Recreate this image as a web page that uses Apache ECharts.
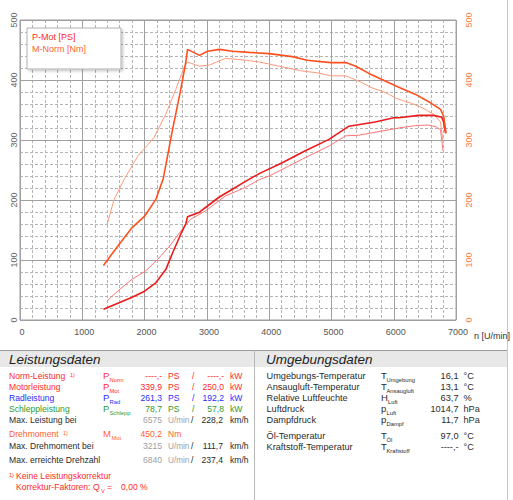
<!DOCTYPE html>
<html><head><meta charset="utf-8">
<script src="https://cdn.jsdelivr.net/npm/echarts@6/dist/echarts.min.js"></script>
<style>html,body{margin:0;padding:0;background:#fff}#c{width:513px;height:500px}</style>
</head><body><div id="c"></div>
<script>
// ---- chart data (rpm / values) ----
const xTicks = [0,1000,2000,3000,4000,5000,6000,7000];
const yTicks = [0,100,200,300,400,500];

const rpmPMot = [1340,1600,1800,2000,2180,2340,2450,2580,2660,2690,2870,3010,3200,3410,3620,3840,4210,4580,4960,5280,5700,6000,6080,6400,6640,6770,6800,6830];
const pMot    = [18,29,38,48,62,84,112,143,160,172,179,190,205,218,231,244,262,282,301,323,330,337,337,341,341,338,330,312];

const rpmPCmp = [1400,1600,1800,2020,2210,2400,2580,2740,2980,3300,3620,3840,4000,4530,4960,5230,5440,5810,6080,6350,6550,6680,6750,6790];
const pCmp    = [32,51,68,82,101,123,148,168,182,207,221,234,240,268,290,307,308,315,320,324,325,322,317,282];

const rpmMMot = [1340,1590,1800,2000,2180,2300,2450,2580,2660,2690,2880,3010,3200,3410,3680,4000,4370,4610,4990,5230,5390,5600,5810,6080,6350,6590,6750,6800,6840];
const mMot    = [91,126,154,173,201,236,318,384,429,451,441,448,451,448,446,444,439,433,429,429,423,411,401,388,376,362,351,340,311];

const rpmMCmp = [1400,1510,1670,1890,2150,2340,2500,2640,2690,2880,3040,3300,3620,3840,4160,4530,4770,4990,5230,5440,5650,5870,6050,6290,6450,6640,6750,6785];
const mCmp    = [160,201,234,273,304,343,384,423,430,423,425,436,433,430,423,415,412,407,407,398,387,379,369,361,354,343,330,300];

const legendNames = ['P-Mot [PS]','M-Norm [Nm]'];

// ---- table texts ----
const leftRowLabels = ['Norm-Leistung','Motorleistung','Radleistung','Schleppleistung','Max. Leistung bei','Drehmoment','Max. Drehmoment bei','Max. erreichte Drehzahl'];
const leftRowSyms   = ['P','P','P','P','','M','',''];
const leftRowSubs   = ['Norm','Mot','Rad','Schlepp','','Mot','',''];
const leftRowV1     = ['----,-','339,9','261,3','78,7','6575','450,2','3215','6840'];
const leftRowU1     = ['PS','PS','PS','PS','U/min','Nm','U/min','U/min'];
const leftRowV2     = ['----,-','250,0','192,2','57,8','228,2','','111,7','237,4'];
const leftRowU2     = ['kW','kW','kW','kW','km/h','','km/h','km/h'];

const rightRowLabels = ['Umgebungs-Temperatur','Ansaugluft-Temperatur','Relative Luftfeuchte','Luftdruck','Dampfdruck','Öl-Temperatur','Kraftstoff-Temperatur'];
const rightRowSyms   = ['T','T','H','p','p','T','T'];
const rightRowSubs   = ['Umgebung','Ansaugluft','Luft','Luft','Dampf','Öl','Kraftstoff'];
const rightRowVals   = ['16,1','13,1','63,7','1014,7','11,7','97,0','----,-'];
const rightRowUnits  = ['°C','°C','%','hPa','hPa','°C','°C'];

// ---- styling ----
const FONT = 'Liberation Sans, Arial, Helvetica, sans-serif';
const RED = '#ff2a2a', BLUE = '#2b2bff', GREEN = '#2f9a2f', ORANGE = '#ff5f2e', DARK = '#2a2a2a', GRAY = '#a0a0a0';
const leftRowColors = [RED, RED, BLUE, GREEN, DARK, ORANGE, DARK, DARK];
const leftRowY = [376, 387, 398, 409, 420, 434, 446, 460];
const rightRowY = [376, 387, 398, 409, 420, 436, 447];
const LF = 8.6, RF = 9.2;

const zip = (xs, ys) => xs.map((x, i) => [x, ys[i]]);

function txt(x, y, text, color, size, align, extra) {
  const st = {
    x: x, y: y, text: text, fill: color,
    font: (extra && extra.italic ? 'italic ' : '') + size + 'px ' + FONT,
    textAlign: align || 'left', textVerticalAlign: 'middle',
    align: align || 'left', verticalAlign: 'middle'
  };
  return { type: 'text', silent: true, z: 10, style: st };
}

const g = [];
// header band and panel lines
g.push({ type: 'rect', silent: true, z: 1, shape: { x: 0, y: 350, width: 507, height: 17 }, style: { fill: '#e8e8e8' } });
g.push({ type: 'line', silent: true, z: 2, shape: { x1: 0, y1: 350.5, x2: 507, y2: 350.5 }, style: { stroke: '#9a9a9a', lineWidth: 1 } });
g.push({ type: 'line', silent: true, z: 2, shape: { x1: 254.5, y1: 350, x2: 254.5, y2: 500 }, style: { stroke: '#b8b8b8', lineWidth: 1 } });
g.push({ type: 'line', silent: true, z: 2, shape: { x1: 507.5, y1: 0, x2: 507.5, y2: 500 }, style: { stroke: '#c8c8c8', lineWidth: 1 } });
g.push(txt(9, 359, 'Leistungsdaten', '#222', 13.5, 'left', { italic: true }));
g.push(txt(266, 359, 'Umgebungsdaten', '#222', 13.5, 'left', { italic: true }));

// left panel rows
leftRowLabels.forEach((lab, i) => {
  const y = leftRowY[i], c = leftRowColors[i];
  g.push(txt(9, y, lab, c, LF, 'left'));
  if (i === 0) g.push(txt(70, y - 1, '1)', c, 5.5, 'left'));
  if (i === 5) g.push(txt(63, y - 1, '1)', c, 5.5, 'left'));
  if (leftRowSyms[i]) {
    g.push(txt(103, y - 1, leftRowSyms[i], c, 9.5, 'left'));
    g.push(txt(leftRowSyms[i] === 'M' ? 111.5 : 109.5, y + 3.5, leftRowSubs[i], c, 5.8, 'left'));
  }
  const isRpm = leftRowU1[i] === 'U/min';
  g.push(txt(162, y, leftRowV1[i], isRpm ? GRAY : c, LF, 'right'));
  g.push(txt(168, y, leftRowU1[i], isRpm ? GRAY : c, isRpm ? 8.2 : LF, 'left'));
  if (leftRowV2[i]) {
    g.push(txt(isRpm ? 191 : 192, y, '/', c, LF, 'left'));
    g.push(txt(isRpm ? 223 : 224, y, leftRowV2[i], c, LF, 'right'));
    g.push(txt(230, y, leftRowU2[i], c, LF, 'left'));
  }
});
// footnote
g.push(txt(9, 475, '1)', RED, 5.5, 'left'));
g.push(txt(16, 476, 'Keine Leistungskorrektur', RED, LF, 'left'));
g.push(txt(16, 487, 'Korrektur-Faktoren: Q', RED, LF, 'left'));
g.push(txt(101, 490.5, 'V', RED, 5.5, 'left'));
g.push(txt(107, 487, '=', RED, LF, 'left'));
g.push(txt(121, 487, '0,00 %', RED, LF, 'left'));

// right panel rows
rightRowLabels.forEach((lab, i) => {
  const y = rightRowY[i];
  g.push(txt(266.5, y, lab, DARK, RF, 'left'));
  g.push(txt(381, y - 1, rightRowSyms[i], DARK, 9.5, 'left'));
  g.push(txt(rightRowSyms[i] === 'H' ? 388 : 386.5, y + 3.5, rightRowSubs[i], DARK, 5.8, 'left'));
  g.push(txt(458.5, y, rightRowVals[i], DARK, RF, 'right'));
  g.push(txt(463.5, y, rightRowUnits[i], DARK, RF, 'left'));
});

const minorLine = { show: true, lineStyle: { color: '#b4b4b4', width: 1, type: [3, 2] } };
const chart = echarts.init(document.getElementById('c'), null, { renderer: 'svg', width: 513, height: 500 });
chart.setOption({
  backgroundColor: '#ffffff',
  animation: false,
  textStyle: { fontFamily: FONT },
  grid: { left: 20, top: 20, right: 56, bottom: 180, show: true, borderColor: '#9a9a9a', borderWidth: 1, backgroundColor: 'transparent' },
  legend: {
    left: 27, top: 28, orient: 'vertical', icon: 'none', itemWidth: 0, itemHeight: 10, itemGap: 2,
    padding: [4, 35, 16, 0], selectedMode: false,
    backgroundColor: '#ffffff', borderColor: '#b0b0b0', borderWidth: 1,
    shadowColor: 'rgba(0,0,0,0.18)', shadowBlur: 2, shadowOffsetX: 2, shadowOffsetY: 2,
    textStyle: { fontSize: 9, fontFamily: FONT },
    data: [
      { name: legendNames[0], textStyle: { color: RED } },
      { name: legendNames[1], textStyle: { color: ORANGE } }
    ]
  },
  xAxis: [
    {
      type: 'value', min: xTicks[0], max: xTicks[xTicks.length - 1], interval: 1000,
      name: 'n [U/min]', nameLocation: 'end', nameGap: 8,
      nameTextStyle: { color: '#333', fontSize: 9, align: 'left', verticalAlign: 'top', padding: [11, 0, 0, 0] },
      axisLine: { show: false }, axisTick: { show: false },
      axisLabel: { color: '#555', fontSize: 9, margin: 7, padding: [0, 0, 0, 4], formatter: v => String(v) },
      splitLine: { show: true, lineStyle: { color: '#a0a0a0', width: 1 } },
      z: 3
    },
    {
      type: 'value', min: xTicks[0], max: xTicks[xTicks.length - 1], interval: 200, position: 'bottom',
      axisLine: { show: false }, axisTick: { show: false }, axisLabel: { show: false },
      splitLine: minorLine, z: 1
    }
  ],
  yAxis: [
    {
      type: 'value', min: yTicks[0], max: yTicks[yTicks.length - 1], interval: 100, position: 'left',
      axisLine: { show: false }, axisTick: { show: false },
      axisLabel: { color: '#666', fontSize: 9, rotate: 90, margin: 2 },
      splitLine: { show: true, lineStyle: { color: '#a0a0a0', width: 1 } },
      z: 3
    },
    {
      type: 'value', min: yTicks[0], max: yTicks[yTicks.length - 1], interval: 100, position: 'right',
      axisLine: { show: false }, axisTick: { show: false },
      axisLabel: { color: '#ff7a40', fontSize: 9, rotate: 90, margin: 8 },
      splitLine: { show: false }
    },
    {
      type: 'value', min: yTicks[0], max: yTicks[yTicks.length - 1], interval: 20, position: 'left',
      axisLine: { show: false }, axisTick: { show: false }, axisLabel: { show: false },
      splitLine: minorLine, z: 1
    }
  ],
  series: [
    { name: 'P-Mot Vergleich', type: 'line', yAxisIndex: 0, showSymbol: false, data: zip(rpmPCmp, pCmp), lineStyle: { color: '#ff7474', width: 1 }, itemStyle: { color: '#ff7474' }, z: 3 },
    { name: 'M-Norm Vergleich', type: 'line', yAxisIndex: 1, showSymbol: false, data: zip(rpmMCmp, mCmp), lineStyle: { color: '#ff9a7a', width: 1 }, itemStyle: { color: '#ff9a7a' }, z: 3 },
    { name: legendNames[0], type: 'line', yAxisIndex: 0, showSymbol: false, data: zip(rpmPMot, pMot), lineStyle: { color: '#ee1a1a', width: 1.6 }, itemStyle: { color: '#ee1a1a' }, z: 4 },
    { name: legendNames[1], type: 'line', yAxisIndex: 1, showSymbol: false, data: zip(rpmMMot, mMot), lineStyle: { color: '#ff4f1f', width: 1.6 }, itemStyle: { color: '#ff4f1f' }, z: 4 }
  ],
  graphic: g
});
</script>
</body></html>
